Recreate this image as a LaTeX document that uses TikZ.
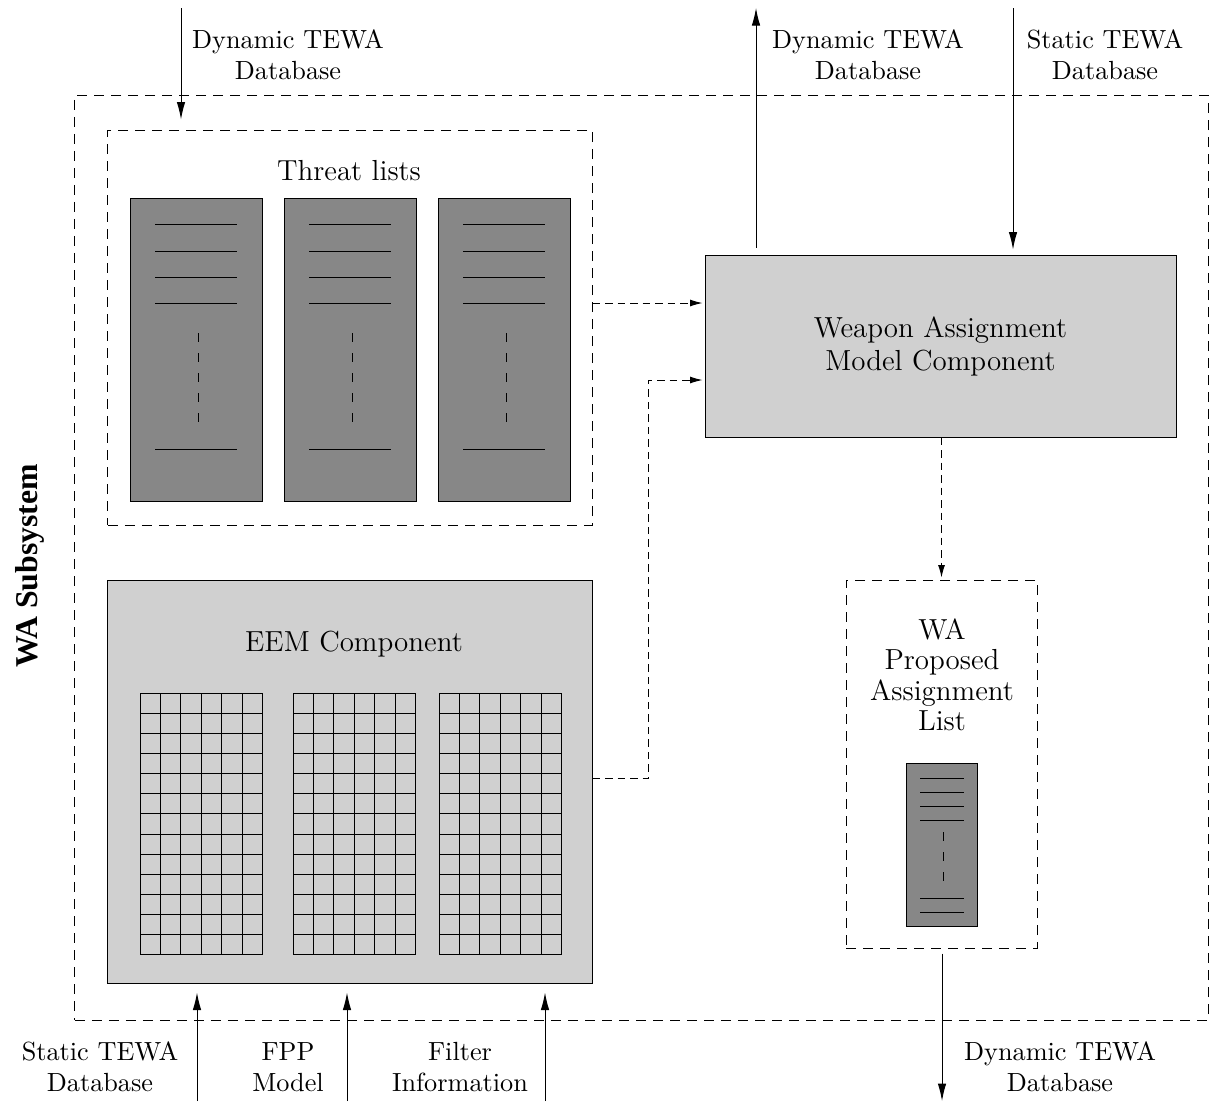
\documentclass[tikz,border=0pt]{standalone}
\usepackage{fontspec}
\newfontfamily\subsysfont{Liberation Serif}
\usetikzlibrary{arrows.meta,positioning}
\definecolor{listgray}{RGB}{135,135,135}
\definecolor{compgray}{RGB}{208,208,208}

\begin{document}
\begin{tikzpicture}[x=0.4pt,y=-0.4pt]
\tikzset{
  dashbox/.style={draw=black,line width=0.4pt,dash pattern=on 4pt off 2.8pt,inner sep=0pt},
  listbox/.style={draw=black,line width=0.4pt,fill=listgray,inner sep=0pt,minimum width=52.8pt,minimum height=121.2pt},
  compbox/.style={draw=black,line width=0.4pt,fill=compgray,inner sep=0pt,align=center,font=\fontsize{11.6}{13.2}\selectfont},
  dblabel/.style={align=center,inner sep=0pt,font=\fontsize{10.5}{12.4}\selectfont},
  boxtitle/.style={align=center,inner sep=0pt,font=\fontsize{11.6}{12.2}\selectfont},
  listdash/.style={line width=0.4pt,dash pattern=on 3.6pt off 4.4pt},
  flow/.style={draw=black,line width=0.4pt,-{Latex[length=7pt,width=3.4pt]}},
  dashedflow/.style={draw=black,line width=0.4pt,dash pattern=on 3pt off 2pt,-{Latex[length=5pt,width=2.8pt]}}
}
\useasboundingbox (0,0) rectangle (1210,1101);
% subsystem frame
\node[dashbox,minimum width=453.2pt,minimum height=370pt] (wasys) at (641.5,557.5) {};
\node[rotate=90,font=\subsysfont\bfseries\fontsize{12.7}{15}\selectfont] (wasystitle) at (30,566) {WA Subsystem};
% threat lists
\node[dashbox,minimum width=193.6pt,minimum height=158pt] (threats) at (350,327.5) {};
\node[boxtitle] (threatstitle) at (349,171) {Threat lists};
\node[listbox] (tl1) at (196,349.5) {};
\node[listbox] (tl2) at (350,349.5) {};
\node[listbox] (tl3) at (504,349.5) {};
\foreach \cx in {196,350,504} {
  \foreach \ly in {224,251,277,303,449}
    \draw[line width=0.4pt] (\cx-41,\ly) -- (\cx+41,\ly);
  \draw[listdash] (\cx+2,333) -- (\cx+2,422);
}
% EEM component
\node[compbox,minimum width=193.6pt,minimum height=161.2pt] (eem) at (350,781.5) {};
\node[boxtitle] (eemtitle) at (354,644) {EEM Component};
\foreach \gx in {140,293,439} {
  \foreach \i in {0,...,6}
    \draw[line width=0.4pt] (\gx+\i*20.4,693) -- (\gx+\i*20.4,955);
  \foreach \j in {0,...,13}
    \draw[line width=0.4pt] (\gx,693+\j*20.15) -- (\gx+122.4,693+\j*20.15);
}
% weapon assignment model
\node[compbox,minimum width=188.4pt,minimum height=72.8pt] (wam) at (940.5,346) {Weapon Assignment\\Model Component};
% proposed assignment list
\node[dashbox,minimum width=76.4pt,minimum height=147.2pt] (walist) at (941.5,764) {};
\node[boxtitle] (walisttitle) at (942,675) {WA\\Proposed\\Assignment\\List};
\node[listbox,minimum width=28.4pt,minimum height=65.2pt] (wapal) at (941.5,844.5) {};
\foreach \ly in {778,792,806,820,898,912}
  \draw[line width=0.4pt] (920,\ly) -- (964,\ly);
\draw[listdash] (943,832) -- (943,882);
% outside links
\coordinate (dynin) at (181,8);
\coordinate (dynout) at (756,8);
\coordinate (statin) at (1013,8);
\coordinate (statineem) at (197,1101);
\coordinate (fppin) at (347,1101);
\coordinate (filterin) at (545,1101);
\coordinate (dynoutlist) at (942,1101);
\node[dblabel] (dyninlabel) at (288,55) {Dynamic TEWA\\Database};
\node[dblabel] (dynoutlabel) at (868,55) {Dynamic TEWA\\Database};
\node[dblabel] (statinlabel) at (1105,55) {Static TEWA\\Database};
\node[dblabel] (statineemlabel) at (100,1067) {Static TEWA\\Database};
\node[dblabel] (fpplabel) at (288,1067) {FPP\\Model};
\node[dblabel] (filterlabel) at (460,1067) {Filter\\Information};
\node[dblabel] (dynoutlistlabel) at (1060,1067) {Dynamic TEWA\\Database};
\draw[flow,shorten >=4pt] (dynin) -- (dynin |- threats.north);
\draw[flow,shorten <=2.8pt] (wam.north -| dynout) -- (dynout);
\draw[flow,shorten >=2pt] (statin) -- (statin |- wam.north);
\draw[flow,shorten >=3.6pt] (statineem) -- (statineem |- eem.south);
\draw[flow,shorten >=3.6pt] (fppin) -- (fppin |- eem.south);
\draw[flow,shorten >=3.6pt] (filterin) -- (filterin |- eem.south);
\draw[flow,shorten <=2pt] (walist.south -| dynoutlist) -- (dynoutlist);
% internal links
\draw[dashedflow,shorten >=0.8pt] ([yshift=9.8pt]threats.east) -- ([yshift=9.8pt]threats.east -| wam.west);
\draw[dashedflow,shorten >=0.8pt] ([yshift=1.4pt]eem.east) -- ++(56,0) |- ([yshift=-13.6pt]wam.west);
\draw[dashedflow,shorten >=0.8pt] (wam.south -| walist.north) -- (walist.north);
\end{tikzpicture}
\end{document}
